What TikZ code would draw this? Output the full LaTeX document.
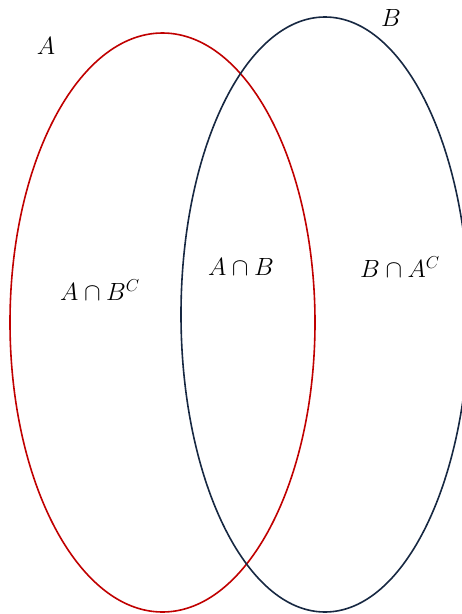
\documentclass[tikz,border=0pt]{standalone}
\usepackage{amsmath}
\usepackage{xcolor}
\definecolor{setred}{RGB}{192,0,0}
\definecolor{setnavy}{RGB}{23,40,66}

\begin{document}
\begin{tikzpicture}[x=1pt, y=-1pt,
    setline/.style={line width=1.6pt},
    lbl/.style={inner sep=0pt, font=\fontsize{26.5}{30}\selectfont}]
\useasboundingbox (0,0) rectangle (462,614);
\draw[setline, setred] (162.5,322.5) ellipse [x radius=152.5, y radius=289.5];
\draw[setline, setnavy] (325,314.5) ellipse [x radius=144, y radius=297.5];
\node[lbl] (la) at (46,46) {$A$};
\node[lbl] (lb) at (391,18) {$B$};
\node[lbl] (anbc) at (100,290) {$A\cap B^C$};
\node[lbl] (anb) at (241,267) {$A\cap B$};
\node[lbl] (bnac) at (400,267) {$B\cap A^C$};
\end{tikzpicture}
\end{document}
